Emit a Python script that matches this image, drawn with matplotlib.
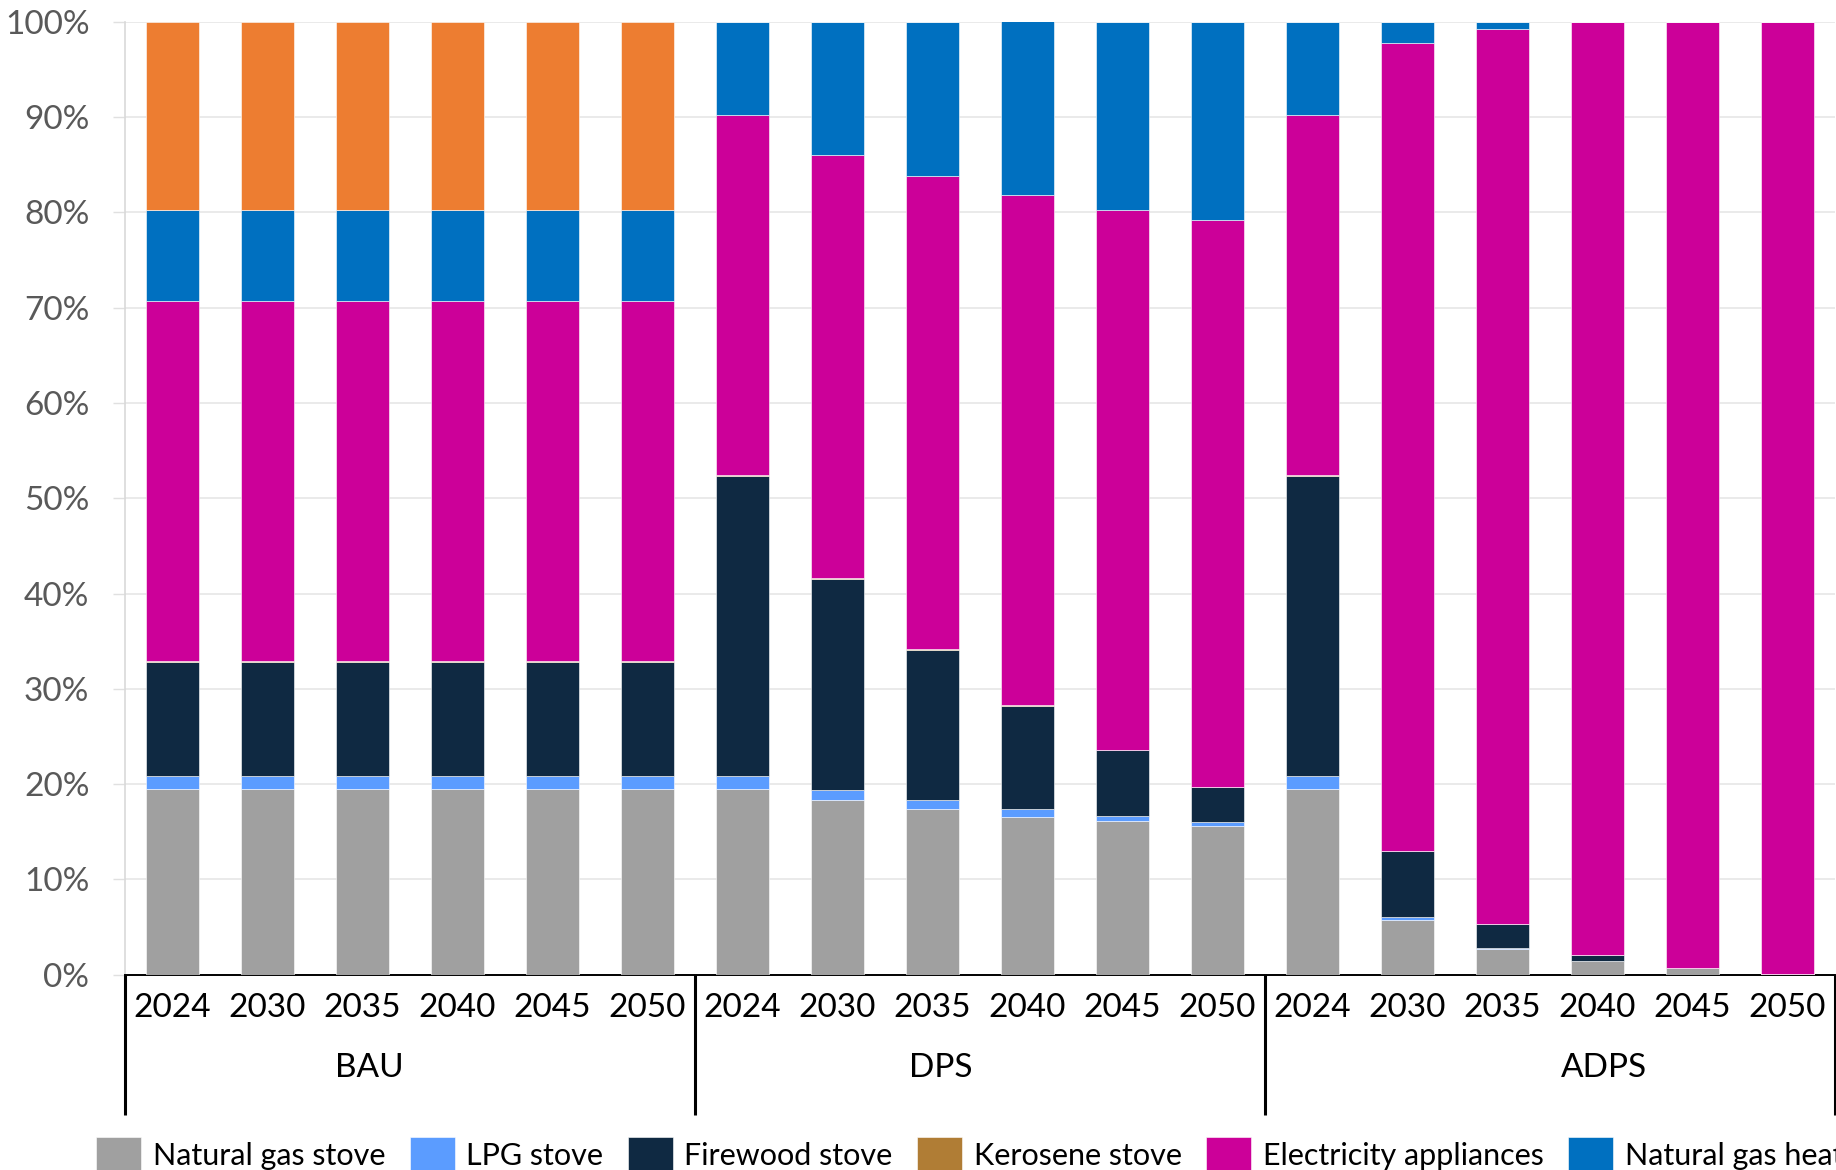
import matplotlib
matplotlib.use("Agg")
import matplotlib.pyplot as plt
import matplotlib.transforms as mtransforms
import numpy as np

plt.rcParams['font.family'] = ['Lato', 'DejaVu Sans']

# ---------------- data ----------------
scenarios = ["BAU", "DPS", "ADPS"]
years = ["2024", "2030", "2035", "2040", "2045", "2050"]

series_names = ["Natural gas stove", "LPG stove", "Firewood stove", "Kerosene stove",
                "Electricity appliances", "Natural gas heater", "Other heating"]

ng_stove = [19.45, 19.45, 19.45, 19.45, 19.45, 19.45,
            19.45, 18.3, 17.35, 16.6, 16.1, 15.6,
            19.45, 5.75, 2.7, 1.4, 0.7, 0.1]
lpg_stove = [1.45, 1.45, 1.45, 1.45, 1.45, 1.45,
             1.4, 1.1, 0.95, 0.75, 0.55, 0.45,
             1.4, 0.35, 0.15, 0.07, 0.02, 0.0]
firewood = [11.9, 11.9, 11.9, 11.9, 11.9, 11.9,
            31.5, 22.15, 15.8, 10.85, 6.9, 3.6,
            31.5, 6.9, 2.5, 0.6, 0.0, 0.0]
kerosene = [0.1, 0.1, 0.1, 0.1, 0.1, 0.1,
            0.1, 0.1, 0.1, 0.05, 0.03, 0.02,
            0.1, 0.02, 0.0, 0.0, 0.0, 0.0]
electricity = [37.75, 37.75, 37.75, 37.75, 37.75, 37.75,
               37.8, 44.4, 49.6, 53.6, 56.7, 59.5,
               37.8, 84.7, 93.9, 97.9, 99.3, 99.9]
ng_heater = [9.6, 9.6, 9.6, 9.6, 9.6, 9.6,
             9.75, 13.9, 16.2, 18.2, 19.7, 20.8,
             9.75, 2.27, 0.73, 0.0, 0.0, 0.0]
other = [19.75, 19.75, 19.75, 19.75, 19.75, 19.75,
         0, 0, 0, 0, 0, 0,
         0, 0, 0, 0, 0, 0]

colors = ["#A0A0A0", "#5B9CFF", "#0F2942", "#B07D35", "#CC0099", "#0070C0", "#ED7D31"]

all_series = [ng_stove, lpg_stove, firewood, kerosene, electricity, ng_heater, other]

# ---------------- figure ----------------
W, H = 1836, 1170
fig = plt.figure(figsize=(W / 100, H / 100), dpi=100)
ax_left, ax_right = 125 / W, 1835 / W
ax_top, ax_bot = 1 - 21.7 / H, 1 - 974.7 / H
ax = fig.add_axes([ax_left, ax_bot, ax_right - ax_left, ax_top - ax_bot])

n = len(scenarios) * len(years)
x = np.arange(n)
bottom = np.zeros(n)
handles = []
for name, vals, col in zip(series_names, all_series, colors):
    vals = np.array(vals, dtype=float)
    b = ax.bar(x, vals, width=0.556, bottom=bottom, color=col, label=name,
               edgecolor="white", linewidth=0.4, zorder=3)
    handles.append(b)
    bottom += vals

ax.set_xlim(-0.5, n - 0.5)
ax.set_ylim(0, 100)
ax.set_yticks(np.arange(0, 101, 10))
ax.set_yticklabels([f"{v}%" for v in range(0, 101, 10)])
ax.yaxis.grid(True, color="#E6E6E6", linewidth=1.2, zorder=0)
ax.set_axisbelow(True)
ax.tick_params(axis="y", length=8.6, width=1.0, color="#E0E0E0", pad=17,
               labelsize=24, labelcolor="#595959")

ax.set_xticks(x)
ax.set_xticklabels(years * len(scenarios))
ax.tick_params(axis="x", length=0, pad=13, labelsize=24, labelcolor="black")

for s in ["top", "right"]:
    ax.spines[s].set_visible(False)
ax.spines["left"].set_color("#D9D9D9")
ax.spines["left"].set_linewidth(1.2)
ax.spines["bottom"].set_color("black")
ax.spines["bottom"].set_linewidth(1.4)

# group separators and labels below axis
trans = mtransforms.blended_transform_factory(ax.transData, ax.transAxes)
sep_bottom = -(1115 - 974.7) / (974.7 - 21.7)
for k in range(len(scenarios) + 1):
    xs = k * len(years) - 0.5
    ax.plot([xs, xs], [0, sep_bottom], transform=trans, color="black",
            linewidth=2.2, clip_on=False, solid_capstyle="butt", zorder=5)

group_label_x = [2.07, 8.09, 15.07]
group_label_y = -(1068 - 974.7) / (974.7 - 21.7)
for lab, gx in zip(scenarios, group_label_x):
    ax.text(gx, group_label_y, lab, transform=trans, ha="center", va="center",
            fontsize=24, color="black")

# legend (runs off the right edge as in the reference)
fs_leg = 22
px_per_em = fs_leg * 100 / 72
fig.legend(handles=handles, labels=series_names, loc="upper left",
           bbox_to_anchor=(96 / W, 1 - 1137 / H), ncol=7, frameon=False,
           fontsize=fs_leg, borderpad=0, borderaxespad=0,
           handlelength=45 / px_per_em, handleheight=45 / px_per_em,
           handletextpad=12 / px_per_em, columnspacing=24 / px_per_em)

fig.savefig("out.png", dpi=100)
